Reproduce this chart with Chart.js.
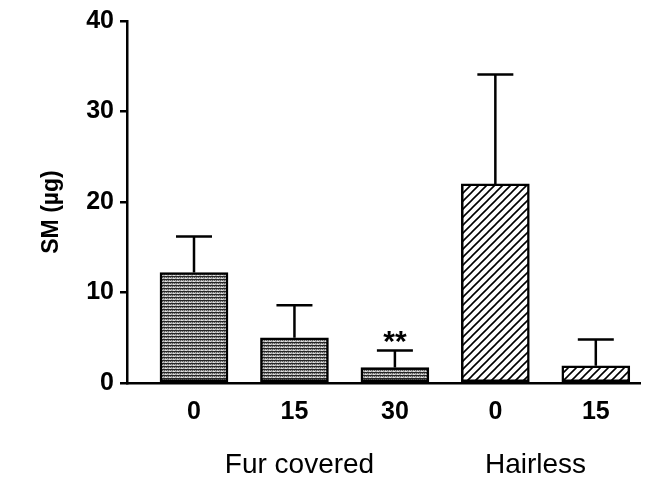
<!DOCTYPE html>
<html>
<head>
<meta charset="utf-8">
<script src="https://cdn.jsdelivr.net/npm/chart.js@4/dist/chart.umd.min.js"></script>
<style>
  body { margin: 0; background: #fff; }
  #wrap { width: 658px; height: 483px; }
</style>
</head>
<body>
<div id="wrap"><canvas id="chart" width="658" height="483"></canvas></div>
<script>
'use strict';

// data
var tickLabels = ['0', '15', '30', '0', '15'];
var groupNames = ['Fur covered', 'Hairless'];
var groupOf = [0, 0, 0, 1, 1];
var groupLabelAt = [1.05, 3.4];
var means = [12.2, 5.0, 1.7, 22.0, 1.9];
var errUp = [4.0, 3.6, 1.9, 12.1, 2.9];
var marks = ['', '', '**', '', ''];
var yTicks = [0, 10, 20, 30, 40];

var FONT = '"Liberation Sans", Arial, sans-serif';

function makeGrayPattern() {
  // dithered mid-grey texture, mostly horizontal streaks
  var c = document.createElement('canvas');
  c.width = 4; c.height = 3;
  var g = c.getContext('2d');
  g.fillStyle = '#ababab';
  g.fillRect(0, 0, 4, 3);
  g.fillStyle = '#262626';
  g.fillRect(0, 0, 4, 1);
  g.fillStyle = '#5c5c5c';
  g.fillRect(0, 1, 1, 1);
  g.fillRect(2, 1, 1, 1);
  g.fillStyle = '#dedede';
  g.fillRect(1, 2, 2, 1);
  return g.createPattern(c, 'repeat');
}

function makeHatchPattern() {
  var c = document.createElement('canvas');
  c.width = 8; c.height = 8;
  var g = c.getContext('2d');
  g.fillStyle = '#fff';
  g.fillRect(0, 0, 8, 8);
  g.strokeStyle = '#000';
  g.lineWidth = 1.6;
  g.beginPath();
  g.moveTo(0, 8); g.lineTo(8, 0);
  g.moveTo(-2, 2); g.lineTo(2, -2);
  g.moveTo(6, 10); g.lineTo(10, 6);
  g.stroke();
  return g.createPattern(c, 'repeat');
}

var ctx = document.getElementById('chart').getContext('2d');
var fills = [makeGrayPattern(), makeHatchPattern()];

var points = [];
var barFills = [];
for (var i = 0; i < means.length; i++) {
  points.push({ x: i, y: means[i] });
  barFills.push(fills[groupOf[i]]);
}

var extras = {
  id: 'extras',
  afterDatasetsDraw: function (chart) {
    var c = chart.ctx;
    var xs = chart.scales.x;
    var ys = chart.scales.y;
    c.save();
    c.strokeStyle = '#000';
    c.lineWidth = 2.5;
    for (var i = 0; i < means.length; i++) {
      var px = xs.getPixelForValue(i);
      var top = ys.getPixelForValue(means[i]);
      var cap = ys.getPixelForValue(means[i] + errUp[i]);
      c.beginPath();
      c.moveTo(px, top);
      c.lineTo(px, cap);
      c.moveTo(px - 18, cap);
      c.lineTo(px + 18, cap);
      c.stroke();
      if (marks[i]) {
        c.fillStyle = '#000';
        c.font = 'bold 30px ' + FONT;
        c.textAlign = 'center';
        c.textBaseline = 'alphabetic';
        c.fillText(marks[i], px, cap + 1);
      }
    }
    // group labels
    c.fillStyle = '#000';
    c.font = '28px ' + FONT;
    c.textAlign = 'center';
    c.textBaseline = 'middle';
    for (var k = 0; k < groupNames.length; k++) {
      c.fillText(groupNames[k], xs.getPixelForValue(groupLabelAt[k]), 465);
    }
    // y title
    c.translate(52, 212);
    c.rotate(-Math.PI / 2);
    c.font = 'bold 23px ' + FONT;
    c.fillText('SM (\u00b5g)', 0, 0);
    c.restore();
  }
};

new Chart(ctx, {
  type: 'bar',
  data: {
    datasets: [{
      data: points,
      backgroundColor: barFills,
      borderColor: '#000',
      borderWidth: 2.5,
      borderSkipped: false,
      barThickness: 68
    }]
  },
  options: {
    responsive: false,
    animation: false,
    layout: { padding: { top: 17, right: 18, left: 0, bottom: 0 } },
    plugins: { legend: { display: false }, tooltip: { enabled: false } },
    scales: {
      x: {
        type: 'linear',
        offset: false,
        min: -0.667,
        max: 4.44,
        afterBuildTicks: function (scale) {
          scale.ticks = tickLabels.map(function (t, i) { return { value: i }; });
        },
        afterFit: function (scale) { scale.height = 100; },
        ticks: {
          callback: function (v) { return tickLabels[v]; },
          color: '#000',
          font: { family: FONT, size: 25, weight: 'bold' },
          padding: 14,
          maxRotation: 0,
          autoSkip: false
        },
        grid: { drawOnChartArea: false, drawTicks: false, offset: false },
        border: { color: '#000', width: 2.5 }
      },
      y: {
        min: 0,
        max: 40,
        afterBuildTicks: function (scale) {
          scale.ticks = yTicks.map(function (v) { return { value: v }; });
        },
        afterFit: function (scale) { scale.width = 127; },
        ticks: {
          color: '#000',
          font: { family: FONT, size: 25, weight: 'bold' },
          padding: 6
        },
        grid: { drawOnChartArea: false, drawTicks: true, tickLength: 7, color: '#000', lineWidth: 2.5 },
        border: { color: '#000', width: 2.5 }
      }
    }
  },
  plugins: [extras]
});
</script>
</body>
</html>
